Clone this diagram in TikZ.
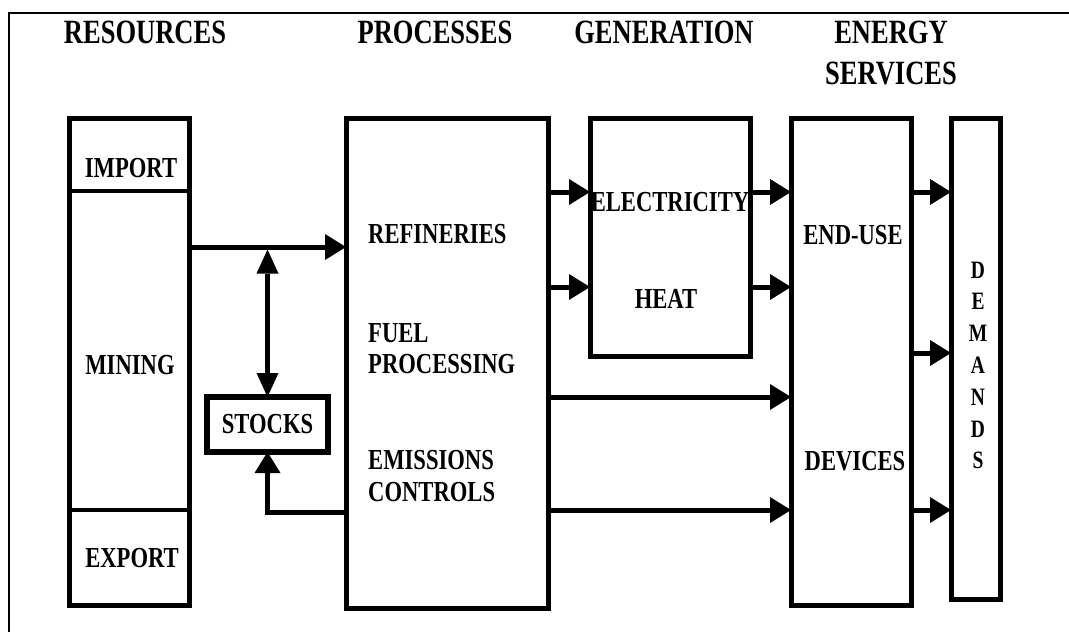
\documentclass[tikz,border=0pt]{standalone}
\usepackage{fontspec}
\setmainfont{Liberation Serif}[FakeStretch=0.78]
\usetikzlibrary{arrows.meta}

\begin{document}
\begin{tikzpicture}[x=1pt,y=-1pt,
  box/.style={draw,line width=5pt,inner sep=0pt,outer sep=0pt,anchor=north west},
  head/.style={font=\fontsize{34}{41}\selectfont\bfseries,align=center},
  lbl/.style={font=\fontsize{29}{31.5}\selectfont\bfseries,inner sep=0pt},
  flow/.style={line width=5pt,-{Triangle[length=21pt,width=26pt,line width=0pt]}}]
  \useasboundingbox (0,0) rectangle (1069,632);
  % frame of the table cell
  \draw[line width=1.2pt] (9,632) -- (9,13) -- (1069,13);
  \draw[line width=2.5pt] (9,13) -- (53,13) (1022,13) -- (1069,13);

  % column headings
  \node[head] (hres) at (145,32) {RESOURCES};
  \node[head] (hproc) at (435,32) {PROCESSES};
  \node[head] (hgen) at (664,32) {GENERATION};
  \node[head] (hserv) at (891,52.5) {ENERGY\\SERVICES};

  % blocks
  \node[box,minimum width=119.5pt,minimum height=487pt] (res) at (69.5,118) {};
  \node[box,minimum width=202pt,minimum height=490pt] (proc) at (346,118) {};
  \node[box,minimum width=160pt,minimum height=238pt] (gen) at (590,118) {};
  \node[box,minimum width=120pt,minimum height=487pt] (serv) at (791,118) {};
  \node[box,minimum width=49pt,minimum height=481pt] (dem) at (951,118) {};
  \node[box,line width=6pt,minimum width=121pt,minimum height=55pt] (stocks) at (207,397) {};

  % row levels of the connectors
  \coordinate (r1) at (0,192);
  \coordinate (r2) at (0,247);
  \coordinate (r3) at (0,287);
  \coordinate (r4) at (0,353);
  \coordinate (r5) at (0,397);
  \coordinate (r6) at (0,510);
  \coordinate (r7) at (0,512);
  \coordinate (imp) at (0,191);
  \coordinate (exp) at (0,510);
  \coordinate (rline) at (267.5,249.5);

  % resources column
  \draw[line width=4pt] (res.west |- imp) -- (res.east |- imp);
  \draw[line width=4pt] (res.west |- exp) -- (res.east |- exp);
  \node[lbl] (import) at (131,168) {IMPORT};
  \node[lbl] (mining) at (130,365) {MINING};
  \node[lbl] (export) at (132,558) {EXPORT};
  \node[lbl] (stk) at (stocks.center) {STOCKS};

  % processes column
  \node[lbl,anchor=west] (refin) at (368,234) {REFINERIES};
  \node[lbl,anchor=west,align=left] (fuel) at (368,348.5) {FUEL\\PROCESSING};
  \node[lbl,anchor=west,align=left] (emis) at (368,476) {EMISSIONS\\CONTROLS};

  % generation and services
  \node[lbl] (elec) at (670,202) {ELECTRICITY};
  \node[lbl] (heat) at (666,299) {HEAT};
  \node[lbl] (enduse) at (853,235) {END-USE};
  \node[lbl] (devices) at (855,461) {DEVICES};
  \node[font=\fontsize{25}{31.8}\selectfont\bfseries,align=center,inner sep=0pt] (dtext)
    at (978,365.5) {D\\E\\M\\A\\N\\D\\S};

  % connectors
  \draw[flow] (res.east |- r2) -- (proc.west |- r2);
  \draw[line width=5pt,{Triangle[length=24pt,width=22pt,line width=0pt]}-{Triangle[length=24pt,width=22pt,line width=0pt]}]
    (rline) -- (stocks.north);
  \draw[flow] (proc.west |- r7) -| (stocks.south);
  \draw[flow] (proc.east |- r1) -- (gen.west |- r1);
  \draw[flow] (proc.east |- r3) -- (gen.west |- r3);
  \draw[flow] (gen.east |- r1) -- (serv.west |- r1);
  \draw[flow] (gen.east |- r3) -- (serv.west |- r3);
  \draw[flow] (proc.east |- r5) -- (serv.west |- r5);
  \draw[flow] (proc.east |- r6) -- (serv.west |- r6);
  \draw[flow] (serv.east |- r1) -- (dem.west |- r1);
  \draw[flow] (serv.east |- r4) -- (dem.west |- r4);
  \draw[flow] (serv.east |- r6) -- (dem.west |- r6);
\end{tikzpicture}
\end{document}
